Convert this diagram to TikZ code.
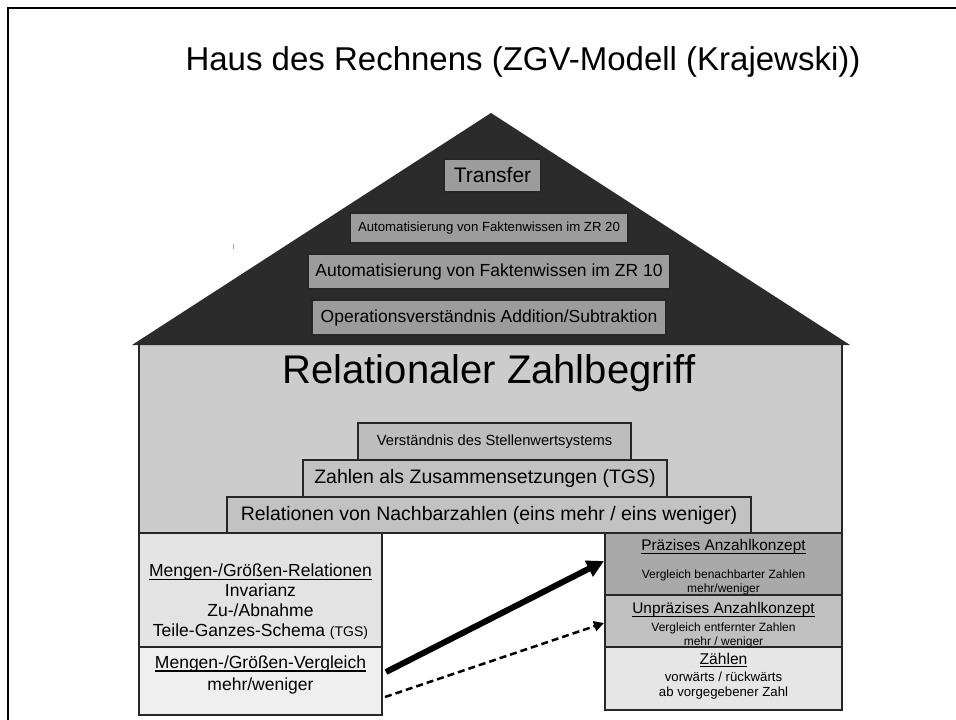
\documentclass[tikz,border=0pt]{standalone}
\usepackage{fontspec}
\setmainfont{Liberation Sans}
\usetikzlibrary{arrows.meta}
\definecolor{roofc}{HTML}{2B2B2B}
\definecolor{roofbox}{HTML}{9C9C9C}
\definecolor{bodyc}{HTML}{CCCCCC}
\definecolor{stepc}{HTML}{C2C2C2}
\definecolor{stepc2}{HTML}{BDBDBD}
\definecolor{edgec}{HTML}{262626}
\definecolor{lefttop}{HTML}{E3E3E3}
\definecolor{leftbot}{HTML}{EFEFEF}
\definecolor{rpraez}{HTML}{A9A9A9}
\definecolor{runpraez}{HTML}{C0C0C0}
\definecolor{rzaehl}{HTML}{E6E6E6}
\newcommand\fsz[2]{\fontsize{#1}{#2}\selectfont}
\newcommand\myul[1]{\leavevmode\setbox0\hbox{#1}\rlap{\vrule width\wd0 height -1.8pt depth 3.0pt}\box0}
\begin{document}
\begin{tikzpicture}[x=1pt,y=-1pt,
  boxstyle/.style={draw=edgec, line width=1.2pt, inner sep=0pt, align=center},
  rbox/.style={boxstyle, fill=roofbox},
  sbox/.style={boxstyle, fill=stepc},
  txt/.style={inner sep=0pt, align=center},
  thickarrow/.style={line width=6pt, -{Triangle[length=17pt,width=17pt]}},
  dasharrow/.style={line width=2.5pt, dash pattern=on 7pt off 4pt, -{Triangle[length=10pt,width=10pt]}}]
\useasboundingbox (0,0) rectangle (956,720);
\fill[white] (0,0) rectangle (956,720);
% frame
\draw[line width=2.2pt, black] (956,8) -- (8,8) -- (8,720);
% title
\node[txt, font=\fsz{33}{38}] (title) at (523,62) {Haus des Rechnens (ZGV-Modell (Krajewski))};
% body
\fill[bodyc] (139,345) rectangle (842,533);
% roof
\fill[roofc] (132,345) -- (491,113) -- (850,345) -- cycle;
\draw[line width=1pt, gray!70] (233,244) -- (233,249);
% walls
\draw[line width=2.6pt, edgec] (139,345) -- (139,533);
\draw[line width=2.6pt, edgec] (842,345) -- (842,533);
% roof boxes
\node[rbox, minimum width=97pt, minimum height=33pt, font=\fsz{21}{24}] (transfer) at (492.5,175.5) {Transfer};
\node[rbox, minimum width=278pt, minimum height=30pt, font=\fsz{13.2}{15}] (zr20) at (489,228) {Automatisierung von Faktenwissen im ZR 20};
\node[rbox, minimum width=362pt, minimum height=35pt, font=\fsz{17.5}{20}] (zr10) at (489,271.5) {Automatisierung von Faktenwissen im ZR 10};
\node[rbox, minimum width=354pt, minimum height=35pt, font=\fsz{17.5}{20}] (oper) at (489,317.5) {Operationsverständnis Addition/Subtraktion};
% body title
\node[txt, font=\fsz{40}{44}] (rel) at (489,373) {Relationaler Zahlbegriff};
% steps
\node[sbox, fill=stepc2, minimum width=273pt, minimum height=37pt, font=\fsz{14.7}{17}] (stw) at (494.5,441.5) {Verständnis des Stellenwertsystems};
\node[sbox, minimum width=364pt, minimum height=37pt, font=\fsz{19.5}{22}] (zus) at (485,478.5) {Zahlen als Zusammensetzungen (TGS)};
\node[sbox, minimum width=524pt, minimum height=36pt, font=\fsz{19.5}{22}] (nach) at (489,515) {Relationen von Nachbarzahlen (eins mehr / eins weniger)};
% left lower box
\node[boxstyle, fill=lefttop, minimum width=243pt, minimum height=114pt] (lrel) at (260.5,590) {};
\node[boxstyle, fill=leftbot, minimum width=243pt, minimum height=68pt] (lver) at (260.5,681) {};
\node[txt, font=\fsz{17.5}{20}] (lrelt) at (260.5,602) {\myul{Mengen-/Größen-Relationen}\\Invarianz\\Zu-/Abnahme\\Teile-Ganzes-Schema {\fsz{14}{20}(TGS)}};
\node[txt, font=\fsz{17.5}{22}] (lvert) at (260.5,675) {\myul{Mengen-/Größen-Vergleich}\\mehr/weniger};
% right lower boxes
\node[boxstyle, fill=rpraez, minimum width=237pt, minimum height=62pt] (rp) at (723.5,564) {};
\node[boxstyle, fill=runpraez, minimum width=237pt, minimum height=52pt] (ru) at (723.5,621) {};
\node[boxstyle, fill=rzaehl, minimum width=237pt, minimum height=63pt] (rz) at (723.5,678.5) {};
\node[txt, font=\fsz{15.4}{18}] (rpt) at (723.5,547) {\myul{Präzises Anzahlkonzept}};
\node[txt, font=\fsz{12}{14}] (rpb) at (723.5,582) {Vergleich benachbarter Zahlen\\mehr/weniger};
\node[txt, font=\fsz{15.4}{18}] (rut) at (723.5,610) {\myul{Unpräzises Anzahlkonzept}};
\node[txt, font=\fsz{12}{13.5}] (rub) at (723.5,635.5) {Vergleich entfernter Zahlen\\mehr / weniger};
\node[txt, font=\fsz{15.6}{18}] (rzt) at (723.5,660) {\myul{Zählen}};
\node[txt, font=\fsz{13.2}{15.5}] (rzb) at (723.5,685.5) {vorwärts / rückwärts\\ab vorgegebener Zahl};
% arrows
\coordinate (a1s) at (386,672);
\coordinate (a1e) at (604,561);
\coordinate (a2s) at (385,697);
\coordinate (a2e) at (604,623);
\draw[thickarrow] (a1s) -- (a1e);
\draw[dasharrow] (a2s) -- (a2e);
\end{tikzpicture}
\end{document}
